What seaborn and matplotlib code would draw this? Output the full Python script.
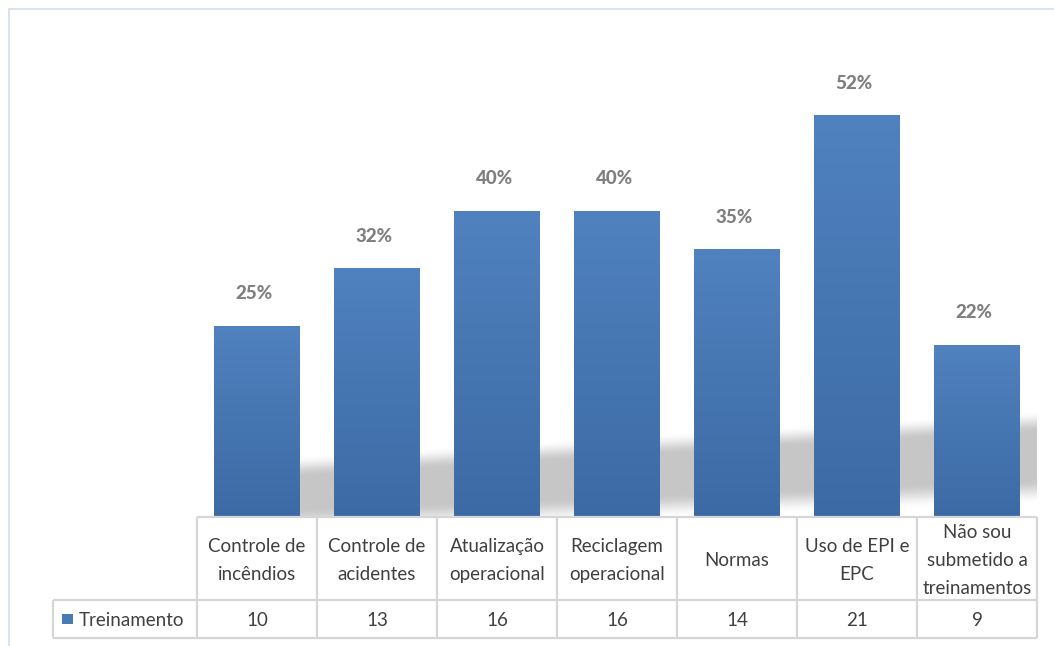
import textwrap
import numpy as np
import matplotlib
matplotlib.use("Agg")
import matplotlib.pyplot as plt
from matplotlib.colors import LinearSegmentedColormap
from matplotlib.patches import Rectangle
import seaborn as sns

# ---- data ----
categories = ["Controle de incêndios", "Controle de acidentes", "Atualização operacional",
              "Reciclagem operacional", "Normas", "Uso de EPI e EPC",
              "Não sou submetido a treinamentos"]
counts = [10, 13, 16, 16, 14, 21, 9]
percents = [25, 32, 40, 40, 35, 52, 22]
series_name = "Treinamento"

sns.set_style("white")
plt.rcParams["font.family"] = ["Lato", "DejaVu Sans"]

W, H = 1054, 646
fig = plt.figure(figsize=(W / 100, H / 100), dpi=100)

def fx(px):
    return px / W

def fy(py):
    return 1 - py / H

# main plot axes: x 197..1037 px, baseline at 517 px
ax = fig.add_axes([fx(197), fy(517), fx(1037) - fx(197), (517 - 38.5) / H])
df = {"cat": categories, "val": counts}
sns.barplot(x="cat", y="val", data=df, color="#4a7ab5", width=86 / 120, ax=ax,
            saturation=1, zorder=2)
ax.set_xlim(-0.5, 6.5)
ax.set_ylim(0, 25)

# gradient fill for each bar
cmap = LinearSegmentedColormap.from_list("g", ["#3c6aa4", "#5082bf"])
grad = np.linspace(0, 1, 256).reshape(-1, 1)
for patch in ax.containers[0]:
    x0, y0 = patch.get_x(), patch.get_y()
    w, h = patch.get_width(), patch.get_height()
    im = ax.imshow(grad, extent=[x0, x0 + w, y0, y0 + h], origin="lower",
                   aspect="auto", cmap=cmap, zorder=3)
    im.set_clip_path(patch)
    patch.set_facecolor("none")
    patch.set_edgecolor("none")

# soft shadow band behind bars
xs = np.linspace(-0.5, 6.5, 800)
ys = np.linspace(0, 7, 400)
X, Y = np.meshgrid(xs, ys)
top = 2.65 + (X - 0.367) * (5.0 - 2.65) / 6.15
bot = -0.2 + (X - 0.367) * (1.35 + 0.2) / 6.15

def smooth(t):
    t = np.clip(t, 0, 1)
    return t * t * (3 - 2 * t)

alpha = smooth((top - Y) / 1.1 + 0.5) * smooth((Y - bot) / 1.3 + 0.5) * (X > 0)
rgba = np.zeros(X.shape + (4,))
rgba[..., :3] = 0.78
rgba[..., 3] = alpha
ax.imshow(rgba, extent=[-0.5, 6.5, 0, 7], origin="lower", aspect="auto",
          interpolation="bilinear", zorder=1)
ax.set_xlim(-0.5, 6.5)
ax.set_ylim(0, 25)

# percentage labels
for i, (c, p) in enumerate(zip(counts, percents)):
    ax.annotate(f"{p}%", xy=(i, c), xytext=(-2, 23), textcoords="offset points",
                ha="center", va="center", fontsize=13.5, fontweight=900,
                color="#7f7f7f", zorder=5)
ax.axis("off")

# data table axes: x 53..1037 px, y 517..638 px
tax = fig.add_axes([fx(53), fy(638), fx(1037) - fx(53), 121 / H])
tax.set_xlim(-0.5 - 144 / 120, 6.5)
tax.set_ylim(0, 121)
tax.axis("off")
lc = "#d6d6d6"
lw = 1.6
n = len(categories)
tax.hlines(121, -0.5, n - 0.5, color=lc, lw=lw, clip_on=False)
tax.hlines([38, 0], -0.5 - 144 / 120, n - 0.5, color=lc, lw=lw, clip_on=False)
tax.vlines(np.arange(n + 1) - 0.5, 0, 121, color=lc, lw=lw, clip_on=False)
tax.vlines(-0.5 - 144 / 120, 0, 38, color=lc, lw=lw, clip_on=False)

txt_color = "#404040"
for i, (cat, c) in enumerate(zip(categories, counts)):
    tax.text(i, 77.5, "\n".join(textwrap.wrap(cat, 12)), ha="center", va="center",
             fontsize=13.5, color=txt_color, linespacing=1.75)
    tax.text(i, 18, str(c), ha="center", va="center", fontsize=13.5, color=txt_color)

# legend key in the row header
tax.scatter([-1.7 + 14.5 / 120], [19], marker="s", s=62, color="#4a7ab5",
            edgecolor="none", clip_on=False)
tax.text(-1.7 + 26 / 120, 18, series_name, ha="left", va="center",
         fontsize=13.5, color=txt_color)

# outer chart frame
fig.add_artist(Rectangle((fx(9), -0.1), 2, fy(9) + 0.1, transform=fig.transFigure,
                         fill=False, edgecolor="#d3ddee", lw=1.2))

fig.savefig("out.png", dpi=100)
